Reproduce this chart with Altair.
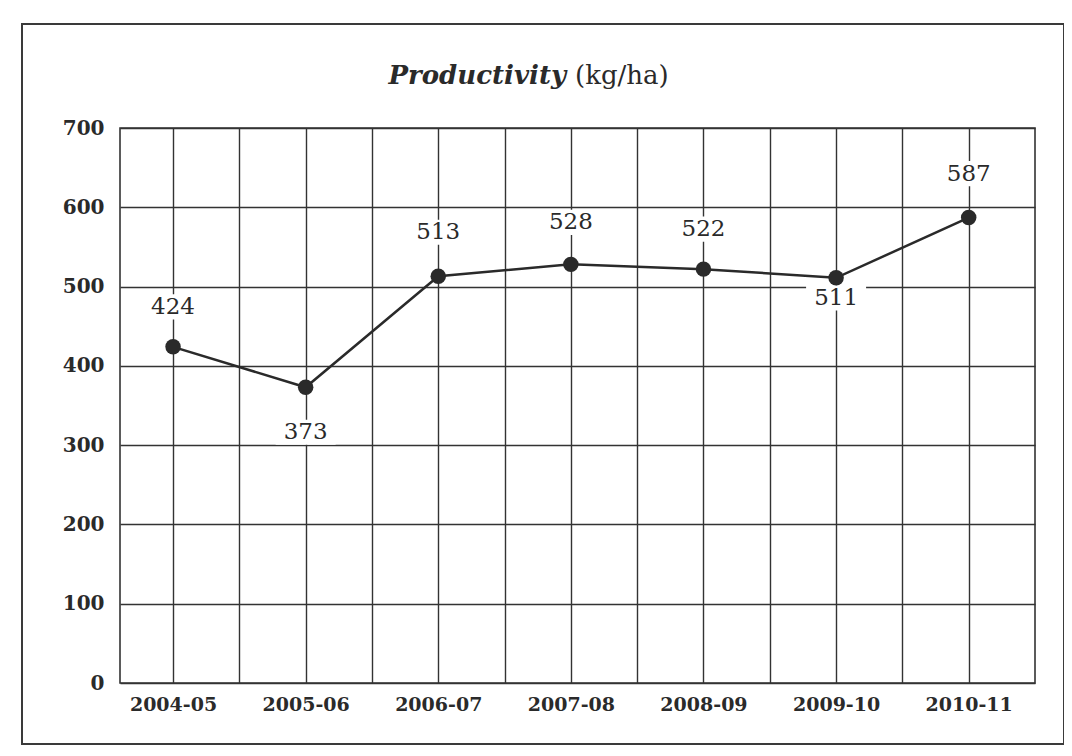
import json
import altair as alt
import pandas as pd

years = ["2004-05", "2005-06", "2006-07", "2007-08", "2008-09", "2009-10", "2010-11"]
values = [424, 373, 513, 528, 522, 511, 587]
label_dy = [-40, 45, -44, -42, -40, 20, -44]
y_ticks = [0, 100, 200, 300, 400, 500, 600, 700]
title_main = "Productivity"
title_unit = "(kg/ha)"

df = pd.DataFrame({
    "idx": list(range(len(years))),
    "year": years,
    "value": values,
    "dy": label_dy,
})

SERIF = "DejaVu Serif"
INK = "#2a2a2a"
W, H = 915, 555

label_expr = "datum.value % 1 === 0 ? " + json.dumps(years) + "[datum.value] : ''"

x_enc = alt.X(
    "idx:Q",
    scale=alt.Scale(domain=[-0.4, 6.5], nice=False, zero=False),
    axis=alt.Axis(
        title=None,
        values=[i * 0.5 for i in range(13)],
        labelExpr=label_expr,
        labelOverlap=False,
        labelFont=SERIF,
        labelFontWeight="bold",
        labelFontSize=19,
        labelColor=INK,
        labelPadding=12,
        ticks=False,
        domain=False,
        grid=True,
        gridColor="#333333",
        gridWidth=1.4,
    ),
)
y_enc = alt.Y(
    "value:Q",
    scale=alt.Scale(domain=[0, 700], nice=False),
    axis=alt.Axis(
        title=None,
        values=y_ticks,
        labelFont=SERIF,
        labelFontWeight="bold",
        labelFontSize=20,
        labelColor=INK,
        labelPadding=16,
        ticks=False,
        domain=False,
        grid=True,
        gridColor="#333333",
        gridWidth=1.4,
    ),
)

base = alt.Chart(df).encode(x=x_enc, y=y_enc)

layers = []
# white boxes behind value labels
for d in sorted(set(label_dy)):
    sub = base.transform_filter(alt.datum.dy == d)
    layers.append(
        sub.mark_point(
            shape="M-1,-0.42L1,-0.42L1,0.42L-1,0.42Z",
            size=3600,
            filled=True,
            fill="white",
            opacity=1,
            strokeWidth=0,
            yOffset=d,
        )
    )

line = base.mark_line(color=INK, strokeWidth=2.5)
pts = base.mark_point(filled=True, size=240, color=INK, opacity=1)
layers += [line, pts]

for d in sorted(set(label_dy)):
    sub = base.transform_filter(alt.datum.dy == d)
    layers.append(
        sub.mark_text(
            font=SERIF,
            fontSize=23,
            color=INK,
            dy=d,
            baseline="middle",
        ).encode(text="value:Q")
    )

one = pd.DataFrame({"a": [0]})
frame = alt.Chart(one).mark_rect(
    filled=False, stroke="#3a3a3a", strokeWidth=2, clip=False
).encode(x=alt.value(-98), x2=alt.value(944), y=alt.value(-104), y2=alt.value(616))

t1 = alt.Chart(pd.DataFrame({"t": [title_main]})).mark_text(
    font=SERIF, fontSize=26, fontStyle="italic", fontWeight="bold", color=INK,
    align="right", baseline="middle",
).encode(text="t:N", x=alt.value(446), y=alt.value(-52))
t2 = alt.Chart(pd.DataFrame({"t": [title_unit]})).mark_text(
    font=SERIF, fontSize=26, fontWeight="normal", color=INK,
    align="left", baseline="middle",
).encode(text="t:N", x=alt.value(455), y=alt.value(-52))

chart = alt.layer(*layers, frame, t1, t2).properties(
    width=W,
    height=H,
    autosize=alt.AutoSizeParams(type="none"),
    padding={"left": 112, "top": 120, "right": 29, "bottom": 65},
    background="white",
).configure_view(
    stroke="#333333", strokeWidth=1.6
)

chart.save("out.html", embed_options={"renderer": "svg", "actions": False})
